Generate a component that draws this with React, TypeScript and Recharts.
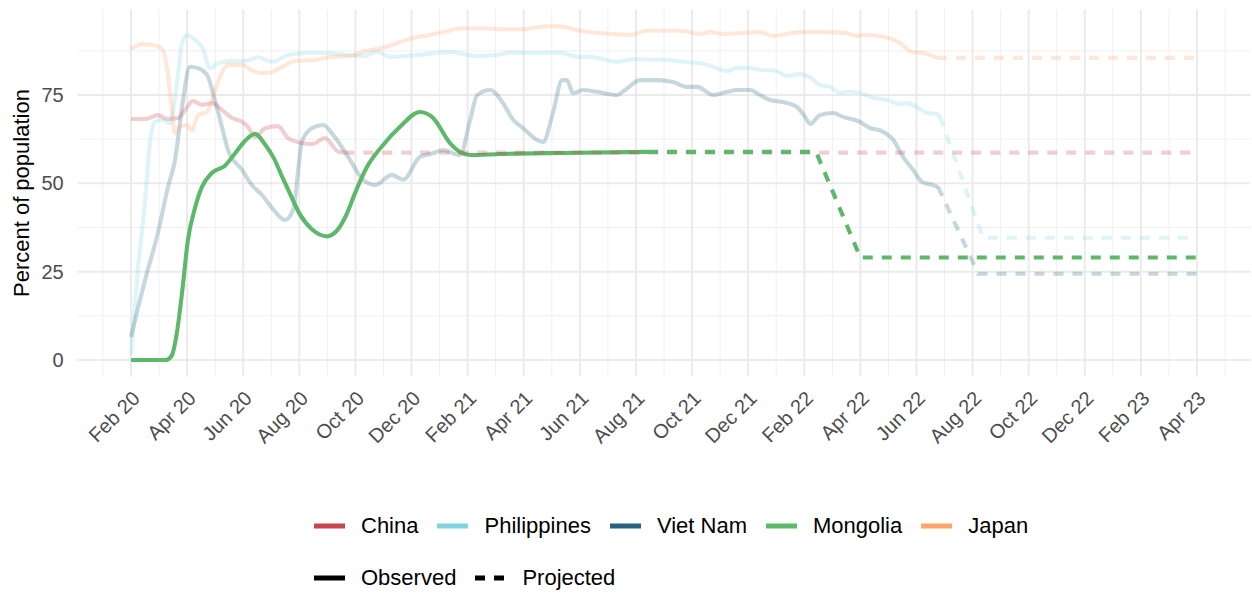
import React from "react";
import { LineChart, Line, XAxis, YAxis, CartesianGrid } from "recharts";

// x = months since Feb 2020, y = percent of population
const monthLabels = [
  "Feb 20", "Apr 20", "Jun 20", "Aug 20", "Oct 20", "Dec 20",
  "Feb 21", "Apr 21", "Jun 21", "Aug 21", "Oct 21", "Dec 21",
  "Feb 22", "Apr 22", "Jun 22", "Aug 22", "Oct 22", "Dec 22",
  "Feb 23", "Apr 23",
];
const majorMonths = monthLabels.map((_, i) => i * 2);
const minorMonths = [-1, ...majorMonths.map((m) => m + 1)];
const majorPct = [0, 25, 50, 75];
const minorPct = [12.5, 37.5, 62.5, 87.5];

const chinaObserved = [
  [0, 68.2], [0.5, 68.2], [0.96, 69.3], [1.28, 68.2], [1.68, 68.5], [1.93, 70.8],
  [2.21, 73.3], [2.53, 72.2], [2.89, 72.7], [3.24, 70.8], [3.6, 68.5], [3.96, 67.4],
  [4.17, 66], [4.42, 63.1], [4.78, 65.6], [5.24, 66.2], [5.6, 62.8], [6.1, 61.4],
  [6.45, 61.1], [6.92, 62.8], [7.38, 59.0], [7.6, 58.7],
];
const chinaProjected = [[7.6, 58.7], [38, 58.7]];

const philippinesObserved = [
  [0, 1.5], [0.25, 26], [0.5, 45], [0.68, 62], [0.86, 67.4], [1.11, 68], [1.39, 67],
  [1.64, 78.4], [1.82, 89.7], [2.0, 92], [2.28, 90.6], [2.53, 88.6], [2.82, 82.6],
  [3.1, 84], [3.6, 84.6], [4.06, 84.6], [4.53, 85.7], [5.03, 84.4], [5.6, 86.3],
  [6.31, 86.9], [7.02, 86.9], [7.74, 86.3], [8.27, 86], [8.77, 87.2], [9.23, 85.8],
  [10.2, 86.3], [11.37, 87.2], [12.34, 86], [13.05, 86.3], [13.51, 87], [14.47, 86.9],
  [15.29, 87], [15.9, 85.8], [16.36, 85.8], [16.83, 85.1], [17.33, 84.4], [17.9, 85.1],
  [19.11, 84.9], [19.68, 84.4], [20.29, 84], [20.75, 83], [21.25, 81.8], [21.6, 82.6],
  [22.07, 82.6], [22.53, 82], [22.89, 82], [23.39, 80.4], [23.85, 80.9], [24.21, 80],
  [24.56, 77.8], [24.92, 77.3], [25.28, 75.6], [25.63, 76], [26.1, 75.3], [26.45, 74.2],
  [26.95, 73.6], [27.41, 72.5], [27.66, 72.7], [28.02, 71.6], [28.38, 69.9],
  [28.73, 69.6], [28.84, 68.8],
];
const philippinesProjected = [[28.84, 68.8], [30.37, 34.6], [38, 34.6]];

const vietNamObserved = [
  [0, 6.5], [0.5, 22.6], [0.96, 36], [1.32, 49], [1.57, 56.6], [1.82, 71.6], [2.1, 83],
  [2.39, 82.6], [2.71, 80.7], [2.99, 73.6], [3.24, 66], [3.46, 59.4], [3.96, 53.8],
  [4.31, 49.5], [4.67, 46.7], [5.03, 43], [5.49, 39.6], [5.78, 42.5], [6.1, 62],
  [6.45, 65.6], [6.84, 66.5], [7.27, 63], [7.74, 57.5], [8.27, 51], [8.7, 49.5],
  [9.3, 52.4], [9.7, 51], [10.3, 57.5], [10.77, 58.5], [11.12, 59.4], [11.73, 58],
  [12.09, 68], [12.34, 75], [12.8, 76.4], [13.26, 72.7], [13.62, 68], [13.98, 65.6],
  [14.47, 62.3], [14.69, 61.7], [15.04, 69.9], [15.37, 79.2], [15.54, 79.2], [15.76, 75.5],
  [16.11, 76.4], [16.61, 75.9], [17.33, 75], [17.61, 76.4], [18.15, 79.2], [18.75, 79.2],
  [19.32, 78.7], [19.82, 77.3], [20.18, 77.3], [20.75, 75], [21.25, 75.9], [21.6, 76.4],
  [22.07, 76.4], [22.42, 75], [22.78, 73.6], [23.24, 73], [23.74, 71.6], [24.03, 68.8],
  [24.21, 66.8], [24.56, 69.3], [25.03, 69.9], [25.38, 68.8], [25.99, 67.4], [26.35, 65.6],
  [26.7, 65], [27.17, 62.3], [27.52, 57.5], [27.88, 53.8], [28.2, 50.4], [28.59, 49.5],
  [28.77, 49],
];
const vietNamProjected = [[28.77, 49], [30.2, 24.4], [38, 24.4]];

const mongoliaObserved = [
  [0, 0], [1.25, 0], [1.45, 1.2], [1.6, 6], [1.82, 19], [2.03, 34], [2.28, 43], [2.53, 49],
  [2.89, 53], [3.35, 55], [3.71, 58.5], [4.06, 62], [4.42, 64], [4.78, 61], [5.1, 57],
  [5.38, 52], [5.7, 46.5], [6.0, 41.5], [6.45, 37], [6.99, 35], [7.4, 37.2], [7.7, 41.5],
  [8.0, 47.5], [8.41, 54.6], [8.98, 60.8], [9.59, 66], [10.3, 70.2], [10.77, 68.5],
  [11.37, 61.4], [11.73, 58.9], [12.09, 58], [13.16, 58.3], [15.29, 58.6], [18.43, 58.9],
];
const mongoliaProjected = [[18.43, 58.9], [24.42, 58.9], [26.0, 29], [38, 29]];

const japanObserved = [
  [0, 88], [0.39, 89.4], [0.75, 89.2], [1.11, 88], [1.28, 83], [1.46, 70.8], [1.57, 64.2],
  [1.75, 66], [2.0, 66.5], [2.17, 65], [2.39, 69.3], [2.71, 70.2], [2.92, 74.4],
  [3.17, 80.1], [3.46, 83.5], [3.96, 83.5], [4.31, 82], [4.67, 81.2], [5.03, 81.5],
  [5.38, 83], [5.85, 84.6], [6.56, 84.9], [7.02, 85.7], [7.74, 86], [8.41, 87.5],
  [8.98, 88.3], [9.59, 90], [10.2, 91.4], [10.66, 92], [11.12, 92.8], [11.84, 93.9],
  [12.55, 93.9], [13.26, 93.6], [13.98, 93.6], [14.47, 94.2], [15.04, 94.5], [15.4, 94.3],
  [16.01, 93.2], [16.61, 92.6], [17.08, 92.3], [17.79, 92], [18.4, 93.2], [19.57, 93.2],
  [20.29, 92.3], [20.64, 92.8], [21.11, 92.3], [22.42, 92.8], [22.89, 91.7], [23.85, 92.8],
  [24.81, 92.8], [25.53, 92.5], [25.88, 91.7], [26.1, 92], [26.7, 91.7], [27.41, 89.7],
  [27.84, 87.2], [28.24, 86.9], [28.73, 85.5],
];
const japanProjected = [[28.73, 85.5], [38, 85.5]];

const countries = [
  { name: "China", color: "#C8474F", observed: chinaObserved, projected: chinaProjected, faded: true },
  { name: "Philippines", color: "#80D4DF", observed: philippinesObserved, projected: philippinesProjected, faded: true },
  { name: "Viet Nam", color: "#27637F", observed: vietNamObserved, projected: vietNamProjected, faded: true },
  { name: "Mongolia", color: "#5DB86A", observed: mongoliaObserved, projected: mongoliaProjected, faded: false },
  { name: "Japan", color: "#FFA56C", observed: japanObserved, projected: japanProjected, faded: true },
];

const toPoints = (pairs: number[][]) => pairs.map(([m, v]) => ({ m, v }));

const FONT = "'Liberation Sans', Arial, Helvetica, sans-serif";
const LINE_W = 4.1;
const DASH = "10 9";
const FADE = 0.26;

const XTick = (props: any) => {
  const { x, y, payload } = props;
  const tx = x + 10;
  const ty = y + 23;
  return (
    <text
      x={tx}
      y={ty}
      transform={`rotate(-45, ${tx}, ${ty})`}
      textAnchor="end"
      fill="#4D4D4D"
      fontSize={20}
      fontFamily={FONT}
    >
      {monthLabels[Math.round(payload.value / 2)]}
    </text>
  );
};

const YTitle = (props: any) => {
  const { viewBox } = props;
  const cx = 21.5;
  const cy = viewBox.y + viewBox.height / 2;
  return (
    <text
      x={cx}
      y={cy}
      transform={`rotate(-90, ${cx}, ${cy})`}
      textAnchor="middle"
      dominantBaseline="central"
      fill="#000"
      fontSize={22}
      fontFamily={FONT}
    >
      Percent of population
    </text>
  );
};

const LegendKey = ({ color, dashed }: { color: string; dashed?: boolean }) => (
  <svg width={31} height={10} style={{ marginRight: 16, flex: "none" }}>
    <line x1={0} x2={31} y1={5} y2={5} stroke={color} strokeWidth={5} strokeDasharray={dashed ? DASH : undefined} />
  </svg>
);

const rowStyle: React.CSSProperties = {
  position: "absolute",
  left: 314,
  height: 30,
  display: "flex",
  alignItems: "center",
  fontFamily: FONT,
  fontSize: 22,
  color: "#000",
  whiteSpace: "nowrap",
};

export default function App() {
  const faded = countries.filter((c) => c.faded);
  const focus = countries.filter((c) => !c.faded);
  const ordered = [...faded, ...focus];

  return (
    <div style={{ position: "absolute", left: 0, top: 0, width: 1252, height: 595, background: "#fff" }}>
      <LineChart
        width={1252}
        height={595}
        margin={{ top: 9.5, right: 1.7, bottom: 158.4, left: 17.7 }}
      >
        <CartesianGrid
          verticalValues={minorMonths}
          horizontalValues={minorPct}
          stroke="#F0F0F0"
          strokeWidth={1}
        />
        <CartesianGrid
          verticalValues={majorMonths}
          horizontalValues={majorPct}
          stroke="#EBEBEB"
          strokeWidth={2}
        />
        <XAxis
          type="number"
          dataKey="m"
          domain={[-1.9, 39.9]}
          allowDataOverflow
          ticks={majorMonths}
          interval={0}
          height={60}
          axisLine={false}
          tickLine={false}
          tickSize={0}
          tickMargin={0}
          tick={<XTick />}
        />
        <YAxis
          type="number"
          dataKey="v"
          domain={[-4.7, 99.2]}
          allowDataOverflow
          ticks={majorPct}
          width={60}
          axisLine={false}
          tickLine={false}
          tickSize={0}
          tickMargin={14}
          tick={{ fill: "#4D4D4D", fontSize: 20, fontFamily: FONT }}
          label={{ content: <YTitle /> }}
        />
        {ordered.map((c) => (
          <Line
            key={c.name + "-obs"}
            data={toPoints(c.observed)}
            dataKey="v"
            type="monotone"
            stroke={c.color}
            strokeOpacity={c.faded ? FADE : 1}
            strokeWidth={LINE_W}
            strokeLinejoin="round"
            dot={false}
            activeDot={false}
            isAnimationActive={false}
          />
        ))}
        {ordered.map((c) => (
          <Line
            key={c.name + "-proj"}
            data={toPoints(c.projected)}
            dataKey="v"
            type="linear"
            stroke={c.color}
            strokeOpacity={c.faded ? FADE : 1}
            strokeWidth={LINE_W}
            strokeDasharray={DASH}
            dot={false}
            activeDot={false}
            isAnimationActive={false}
          />
        ))}
      </LineChart>

      <div style={{ ...rowStyle, top: 511 }}>
        {countries.map((c) => (
          <div key={c.name} style={{ display: "flex", alignItems: "center", marginRight: 19 }}>
            <LegendKey color={c.color} />
            <span>{c.name}</span>
          </div>
        ))}
      </div>
      <div style={{ ...rowStyle, top: 563 }}>
        <div style={{ display: "flex", alignItems: "center", marginRight: 19 }}>
          <LegendKey color="#000" />
          <span>Observed</span>
        </div>
        <div style={{ display: "flex", alignItems: "center" }}>
          <LegendKey color="#000" dashed />
          <span>Projected</span>
        </div>
      </div>
    </div>
  );
}
